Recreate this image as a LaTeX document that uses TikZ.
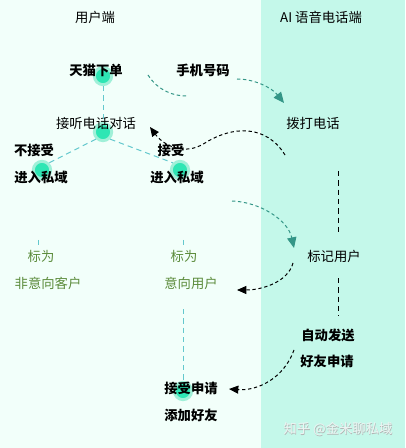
\documentclass[tikz,border=0pt]{standalone}
\usepackage{fontspec}
\newfontfamily\cjk{Noto Sans CJK SC}
\usetikzlibrary{arrows.meta}
\definecolor{leftbg}{RGB}{242,255,250}
\definecolor{rightbg}{RGB}{196,248,234}
\definecolor{dotcore}{RGB}{46,230,180}
\definecolor{dothalo}{RGB}{160,240,216}
\definecolor{tealline}{RGB}{100,200,205}
\definecolor{tealarrow}{RGB}{52,150,135}
\definecolor{marktext}{RGB}{92,140,60}
\definecolor{wmark}{RGB}{236,244,242}
\tikzset{every picture/.style={line width=0.75pt}}
\tikzset{
  txt/.style={inner sep=0.75pt,font=\cjk\fontsize{10}{12}\selectfont},
  btxt/.style={txt,font=\cjk\bfseries\fontsize{10}{12}\selectfont},
  gtxt/.style={txt,text=marktext},
  dot/.style={circle,fill=dotcore,draw=dothalo,line width=2.2pt,minimum size=13pt,inner sep=0pt},
  tdash/.style={draw=tealline,dash pattern=on 4pt off 3pt},
  tcurve/.style={draw=tealarrow,dash pattern=on 2.5pt off 2pt},
  kcurve/.style={draw=black,dash pattern=on 2.5pt off 2pt},
  tip/.style={-{Triangle[length=7pt,width=6pt]}}
}

\begin{document}
\begin{tikzpicture}[x=0.75pt,y=0.75pt,yscale=-1,xscale=1]
\path[use as bounding box] (0,0) rectangle (405,448);

%Shape: Rectangle [id:left]
\fill[leftbg] (0,0) rectangle (261,448);
%Shape: Rectangle [id:right]
\fill[rightbg] (261,0) rectangle (405,448);

%Shape: Circle
\node[dot] (dOrder) at (103,76) {};
\node[dot] (dAnswer) at (103,132) {};
\node[dot] (dReject) at (42,170) {};
\node[dot] (dAccept) at (180,170) {};
\node[dot] (dFriend) at (183,391) {};

% Text Node
\node[txt] (tUser) at (95,17) {用户端};
\node[txt] (tAI) at (321,17) {AI 语音电话端};
\node[btxt] (tOrder) at (96,70) {天猫下单};
\node[btxt] (tPhone) at (203,70) {手机号码};
\node[txt] (tCall) at (313,123) {拨打电话};
\node[txt] (tAnswer) at (96,123) {接听电话对话};
\node[btxt] (tNo) at (34,150) {不接受};
\node[btxt] (tNoIn) at (41,177) {进入私域};
\node[btxt] (tYes) at (171,150) {接受};
\node[btxt] (tYesIn) at (177,177) {进入私域};
\node[gtxt] (tMarkA) at (41,256) {标为};
\node[gtxt] (tMarkA2) at (48,283) {非意向客户};
\node[gtxt] (tMarkB) at (184,256) {标为};
\node[gtxt] (tMarkB2) at (191,283) {意向用户};
\node[txt] (tTag) at (334,256) {标记用户};
\node[btxt] (tSend) at (328,335) {自动发送};
\node[btxt] (tSend2) at (327,361) {好友申请};
\node[btxt] (tAcc) at (191,388) {接受申请};
\node[btxt] (tAdd) at (191,415) {添加好友};
\node[txt,text=gray!60] (tMarkSh) at (338.6,429.6) {知乎 @金米聊私域};
\node[txt,text=wmark] (tMark) at (338,429) {知乎 @金米聊私域};

%Straight Lines
\draw[tdash] (dOrder.south) -- (dAnswer.north);
\draw[tdash] (dAnswer.south west) -- (dReject.north east);
\draw[tdash] (dAnswer.south east) -- (dAccept.north west);
\draw[tdash] (38,240) -- (38,246);
\draw[tdash] (183,240) -- (183,246);
\draw[tdash] (183,309) -- (dFriend.north);

%Straight Lines [black]
\draw[kcurve,dash pattern=on 4pt off 3pt] (338,171) -- (338,232);
\draw[kcurve,dash pattern=on 4pt off 3pt] (338,278) -- (338,316);

%Curve Lines
\coordinate (c1a) at (148,75);
\coordinate (c1b) at (187,96);
\draw[tcurve] (c1a) .. controls (156,88) and (170,96) .. (c1b);
\coordinate (c2a) at (237,79);
\coordinate (c2b) at (284,103);
\draw[tcurve,-{Triangle[length=8pt,width=7pt,fill=tealarrow]}] (c2a) .. controls (255,79) and (272,88) .. (c2b);
\coordinate (c3a) at (285,155);
\coordinate (c3b) at (150,127);
\draw[kcurve,tip] (c3a) .. controls (266,124) and (232,126) .. (205,143) .. controls (185,156) and (164,146) .. (c3b);
\coordinate (c4a) at (232,201);
\coordinate (c4b) at (294,248);
\draw[tcurve,-{Triangle[length=8pt,width=7pt,fill=tealarrow]}] (c4a) .. controls (260,202) and (288,220) .. (c4b);
\coordinate (c5a) at (293,263);
\coordinate (c5b) at (237,290);
\draw[kcurve,tip] (c5a) .. controls (288,282) and (262,290) .. (c5b);
\coordinate (c6a) at (294,350);
\coordinate (c6b) at (229,389);
\draw[kcurve,tip] (c6a) .. controls (284,378) and (258,391) .. (c6b);

\end{tikzpicture}
\end{document}
